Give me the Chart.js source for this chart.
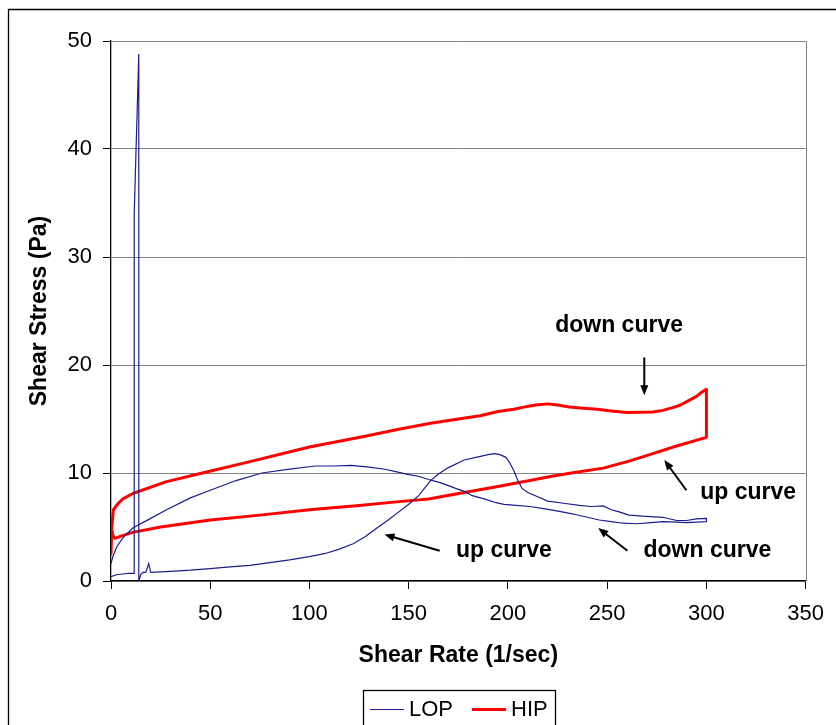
<!DOCTYPE html>
<html lang="en">
  <head>
    <meta charset="UTF-8" />
    <title>Shear stress vs shear rate</title>
    <script src="https://cdn.jsdelivr.net/npm/chart.js@4.4.1/dist/chart.umd.min.js"></script>
    <style>
      html, body { margin: 0; padding: 0; background: #fff; }
      #wrap { width: 836px; height: 725px; position: relative; }
    </style>
  </head>
  <body>
    <div id="wrap"><canvas id="mychart" width="836" height="725"></canvas></div>
    <script>
      // LOP sample: up curve (0 -> 300 1/s) then down curve (300 -> 0)
      const lopRate = [
        0, 3, 6, 9, 11.7, 11.7, 14, 14, 15, 16, 17.5, 19, 20, 25, 30, 40, 50, 60, 70, 80, 90, 100,
        108, 115, 122, 128, 134, 140, 145, 150, 155, 161, 165, 170, 178, 185, 190, 193, 196, 199,
        201, 203, 205, 207, 210, 215, 220, 228, 236, 242, 248, 252, 256, 261, 268, 278, 285, 290,
        295, 300,
        300, 295, 290, 285, 278, 272, 265, 258, 252, 246, 240, 233, 226, 218, 211, 204, 198, 194,
        188, 182, 178, 174, 169, 165, 160, 155, 150, 144, 138, 130, 121, 112, 103, 90, 76, 63, 50,
        40, 28, 20, 11, 6, 3, 1, 0
      ];
      const lopStress = [
        0.4, 0.6, 0.65, 0.7, 0.7, 34, 48.8, 0, 0.6, 0.8, 0.8, 1.6, 0.8, 0.85, 0.9, 1.0, 1.15, 1.3,
        1.45, 1.7, 1.95, 2.25, 2.55, 2.95, 3.45, 4.1, 4.9, 5.7, 6.4, 7.1, 7.9, 9.3, 9.9, 10.5, 11.2,
        11.5, 11.7, 11.8, 11.7, 11.45, 10.9, 10.2, 9.3, 8.6, 8.2, 7.8, 7.4, 7.2, 7.0, 6.9, 6.95,
        6.6, 6.4, 6.1, 6.0, 5.9, 5.6, 5.6, 5.75, 5.8,
        5.5, 5.45, 5.4, 5.45, 5.5, 5.4, 5.3, 5.35, 5.5, 5.65, 5.9, 6.2, 6.45, 6.7, 6.9, 7.0, 7.1,
        7.25, 7.6, 7.9, 8.3, 8.55, 8.9, 9.15, 9.4, 9.7, 9.85, 10.1, 10.35, 10.55, 10.7, 10.65,
        10.65, 10.35, 10.0, 9.3, 8.4, 7.7, 6.6, 5.8, 4.9, 4.0, 3.2, 2.3, 1.6
      ];

      // HIP sample: same up/down sweep
      const hipRate = [
        0.3, 1, 2, 5, 11, 25, 50, 75, 100, 125, 145, 160, 178, 195, 211, 222, 232, 248, 261, 273,
        285, 300,
        300, 297, 295, 291, 287, 283, 278, 273, 260, 252, 245, 238, 231, 225, 220, 214, 208, 203,
        195, 186, 175, 161, 145, 128, 100, 70, 45, 28, 11, 6, 3.7, 1.2, 0.4, 0
      ];
      const hipStress = [
        4.8, 4.2, 3.95, 4.15, 4.5, 5.0, 5.65, 6.1, 6.6, 7.0, 7.35, 7.6, 8.2, 8.75, 9.3, 9.7, 10.0,
        10.45, 11.1, 11.8, 12.5, 13.3,
        17.75, 17.4, 17.1, 16.7, 16.3, 16.05, 15.8, 15.65, 15.6, 15.75, 15.9, 16.0, 16.1, 16.3,
        16.4, 16.3, 16.1, 15.9, 15.7, 15.3, 15.0, 14.6, 14.05, 13.4, 12.4, 11.05, 9.95, 9.2, 8.1,
        7.6, 7.2, 6.6, 5.0, 2.5
      ];

      // callouts: label anchor and arrow (tail -> head), all in data units
      const noteText = ["down curve", "up curve", "up curve", "down curve"];
      const noteAt = [[256, 23.6], [321, 8.2], [198, 2.85], [300.5, 2.85]];
      const noteArrow = [
        [[268.7, 20.7], [268.7, 17.2]],
        [[289.9, 8.4], [278.8, 11.2]],
        [[165.6, 2.8], [137.8, 4.3]],
        [[260.2, 2.8], [245.5, 4.9]]
      ];

      const toPoints = (xs, ys) => xs.map((x, i) => ({ x: x, y: ys[i] }));
      const FONT = "'Liberation Sans', Arial, sans-serif";

      const chrome = {
        id: "chrome",
        beforeDatasetsDraw(chart) {
          const { ctx, chartArea } = chart;
          ctx.save();
          // right edge of the plot box
          ctx.strokeStyle = "#808080";
          ctx.lineWidth = 1;
          ctx.beginPath();
          ctx.moveTo(Math.round(chartArea.right) + 0.5, chartArea.top);
          ctx.lineTo(Math.round(chartArea.right) + 0.5, chartArea.bottom);
          ctx.stroke();
          ctx.restore();
        },
        afterDraw(chart) {
          const { ctx } = chart;
          const sx = chart.scales.x, sy = chart.scales.y;
          ctx.save();

          // outer frame
          ctx.strokeStyle = "#000";
          ctx.lineWidth = 1.3;
          ctx.beginPath();
          ctx.moveTo(8.5, 730);
          ctx.lineTo(8.5, 9.5);
          ctx.lineTo(840, 9.5);
          ctx.stroke();

          // callouts
          ctx.fillStyle = "#000";
          ctx.font = "bold 23px " + FONT;
          ctx.textAlign = "center";
          ctx.textBaseline = "middle";
          noteText.forEach((t, i) => {
            ctx.fillText(t, sx.getPixelForValue(noteAt[i][0]), sy.getPixelForValue(noteAt[i][1]));
            const [a, b] = noteArrow[i];
            const x0 = sx.getPixelForValue(a[0]), y0 = sy.getPixelForValue(a[1]);
            const x1 = sx.getPixelForValue(b[0]), y1 = sy.getPixelForValue(b[1]);
            const ang = Math.atan2(y1 - y0, x1 - x0);
            const hl = 10, hw = 4;
            ctx.lineWidth = 2;
            ctx.beginPath();
            ctx.moveTo(x0, y0);
            ctx.lineTo(x1 - Math.cos(ang) * hl * 0.8, y1 - Math.sin(ang) * hl * 0.8);
            ctx.stroke();
            ctx.beginPath();
            ctx.moveTo(x1, y1);
            ctx.lineTo(x1 - Math.cos(ang) * hl - Math.sin(ang) * hw, y1 - Math.sin(ang) * hl + Math.cos(ang) * hw);
            ctx.lineTo(x1 - Math.cos(ang) * hl + Math.sin(ang) * hw, y1 - Math.sin(ang) * hl - Math.cos(ang) * hw);
            ctx.closePath();
            ctx.fill();
          });

          // legend box under the x title
          const lx = 363, ly = 690;
          ctx.lineWidth = 1.3;
          ctx.strokeRect(lx + 0.5, ly + 0.5, 192, 60);
          ctx.font = "22px " + FONT;
          ctx.textAlign = "left";
          let cx = lx + 7;
          chart.data.datasets.forEach((ds) => {
            ctx.strokeStyle = ds.borderColor;
            ctx.lineWidth = ds.borderWidth;
            ctx.beginPath();
            ctx.moveTo(cx, 709.5);
            ctx.lineTo(cx + 34, 709.5);
            ctx.stroke();
            ctx.fillText(ds.label, cx + 39, 710);
            cx += 39 + ctx.measureText(ds.label).width + 19;
          });
          ctx.restore();
        },
      };

      const ctx = document.getElementById("mychart").getContext("2d");
      new Chart(ctx, {
        type: "scatter",
        data: {
          datasets: [
            {
              label: "LOP",
              data: toPoints(lopRate, lopStress),
              showLine: true,
              borderColor: "#1c1c8e",
              backgroundColor: "#1c1c8e",
              borderWidth: 1.2,
              pointRadius: 0,
              tension: 0,
            },
            {
              label: "HIP",
              data: toPoints(hipRate, hipStress),
              showLine: true,
              borderColor: "#ff0000",
              backgroundColor: "#ff0000",
              borderWidth: 3,
              borderJoinStyle: "round",
              pointRadius: 0,
              tension: 0,
            },
          ],
        },
        options: {
          responsive: false,
          animation: false,
          layout: { autoPadding: false, padding: { left: 0, top: 41, right: 26, bottom: 0 } },
          plugins: { legend: { display: false }, tooltip: { enabled: false } },
          scales: {
            x: {
              type: "linear",
              min: 0,
              max: 350,
              ticks: { stepSize: 50, color: "#000", padding: 12, font: { family: FONT, size: 22 }, maxRotation: 0 },
              grid: { drawOnChartArea: false, drawTicks: true, tickLength: 8, tickColor: "#000" },
              border: { color: "#000", width: 1.3 },
              title: {
                display: true,
                text: "Shear Rate (1/sec)",
                color: "#000",
                font: { family: FONT, size: 23, weight: "bold" },
                padding: { top: 0, bottom: 56 },
              },
              afterFit: (s) => { s.height = 144; },
            },
            y: {
              min: 0,
              max: 50,
              ticks: { stepSize: 10, color: "#000", padding: 11, font: { family: FONT, size: 22 } },
              grid: { color: "#808080", lineWidth: 1, tickLength: 8, tickColor: "#000" },
              border: { color: "#000", width: 1.3 },
              title: {
                display: true,
                text: "Shear Stress (Pa)",
                color: "#000",
                font: { family: FONT, size: 23, weight: "bold" },
                padding: { top: 26, bottom: 0 },
              },
              afterFit: (s) => { s.width = 111; },
            },
          },
        },
        plugins: [chrome],
      });
    </script>
  </body>
</html>
